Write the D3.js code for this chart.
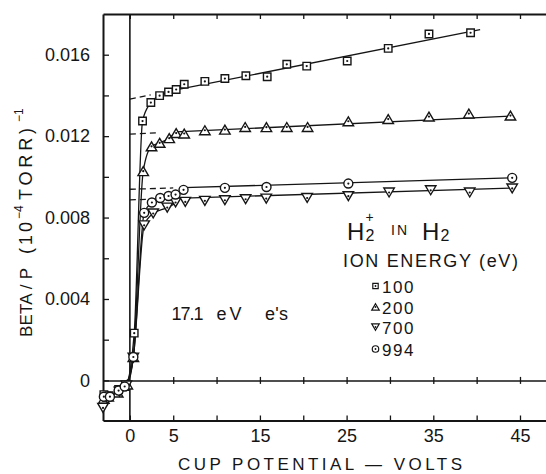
<!DOCTYPE html>
<html>
<head>
<meta charset="utf-8">
<script src="https://cdn.jsdelivr.net/npm/d3@7"></script>
<style>
  body { margin: 0; background: #fff; }
  text { font-family: "Liberation Sans", "DejaVu Sans", sans-serif; fill: #151515; }
</style>
</head>
<body>
<svg></svg>
<script>
// beta/p vs cup potential, one [volts, beta] list per ion energy
var ion100 = [[-3.0,-0.00070],[-2.4,-0.00075],[-1.3,-0.00045],[-0.5,-0.00030],[0.5,0.00232],[1.46,0.01274],
              [2.42,0.01365],[3.43,0.01399],[4.46,0.01417],[5.34,0.01429],[6.27,0.01455],[8.65,0.01469],
              [10.96,0.01483],[13.38,0.01497],[15.84,0.01492],[18.1,0.01553],[20.4,0.01544],[25.07,0.01569],
              [29.8,0.01631],[34.5,0.01702],[39.3,0.01708]];
var ion200 = [[-3.0,-0.00090],[-2.5,-0.00080],[-1.4,-0.00060],[-0.3,-0.00020],[0.4,0.00115],[1.54,0.01028],
              [2.5,0.01150],[3.44,0.01167],[4.54,0.01190],[5.34,0.01215],[6.27,0.01213],[8.65,0.01229],
              [10.96,0.01232],[13.3,0.01245],[15.75,0.01244],[18.1,0.01245],[20.5,0.01245],[25.2,0.01273],
              [29.8,0.01284],[34.5,0.01296],[39.1,0.01311],[43.9,0.01301]];
var ion700 = [[-3.1,-0.00135],[-2.6,-0.00090],[-1.2,-0.00055],[-0.4,-0.00025],[0.4,0.00112],[1.65,0.00762],
              [2.69,0.00820],[4.31,0.00849],[5.27,0.00874],[6.39,0.00877],[8.65,0.00882],[10.96,0.00885],
              [13.35,0.00890],[15.73,0.00893],[20.45,0.00896],[25.2,0.00905],[29.9,0.00923],[34.7,0.00934],
              [39.2,0.00923],[44.1,0.00943]];
var ion994 = [[-3.0,-0.00080],[-2.3,-0.00080],[-1.3,-0.00050],[-0.6,-0.00030],[0.4,0.00115],[1.65,0.00823],
              [2.54,0.00874],[3.5,0.00896],[4.46,0.00906],[5.27,0.00913],[6.19,0.00936],[10.96,0.00946],
              [15.76,0.00950],[25.2,0.00967],[44.1,0.00995]];

var energies = ["100", "200", "700", "994"];

// straight line fits (beta at 0 V, end of line), dashed back to 0 V
var fitBeta0   = [0.01382, 0.01210, 0.00887, 0.00939];
var fitEndV    = [40.4, 43.9, 44.1, 44.1];
var fitEndBeta = [0.01723, 0.01298, 0.00945, 0.00995];
var dashEndV   = [2.4, 3.0, 4.3, 5.0];
var mergeV     = [5.3, 5.3, 5.3, 6.2];

var xTickValues = [0, 5, 10, 15, 20, 25, 30, 35, 40, 45];
var xTickLabels = ["0", "5", "", "15", "", "25", "", "35", "", "45"];
var yTickValues = [0, 0.002, 0.004, 0.006, 0.008, 0.010, 0.012, 0.014, 0.016];
var yTickLabels = ["0", "", "0.004", "", "0.008", "", "0.012", "", "0.016"];

var width = 546, height = 474;
var plot = { left: 103, right: 546, top: 14, bottom: 420.5 };

var svg = d3.select("svg")
    .attr("width", width)
    .attr("height", height);

var xScale = d3.scaleLinear().domain([-3.1, 48]).range([plot.left, plot.right]);
var yScale = d3.scaleLinear().domain([-0.00197, 0.0180]).range([plot.bottom, plot.top]);

// marker shapes for d3.symbol (size = width in px)
var squareMark = { draw: function(c, s) { c.rect(-s / 2, -s / 2, s, s); } };
var triUpMark = { draw: function(c, s) {
  var h = s * 0.85;
  c.moveTo(0, -h / 2); c.lineTo(s / 2, h / 2); c.lineTo(-s / 2, h / 2); c.closePath(); } };
var triDownMark = { draw: function(c, s) {
  var h = s * 0.85;
  c.moveTo(0, h / 2); c.lineTo(s / 2, -h / 2); c.lineTo(-s / 2, -h / 2); c.closePath(); } };
var circleMark = { draw: function(c, s) { c.moveTo(s / 2, 0); c.arc(0, 0, s / 2, 0, 2 * Math.PI); } };

var series = [
  { data: ion100, mark: squareMark, size: 7.5 },
  { data: ion200, mark: triUpMark, size: 10.5 },
  { data: ion700, mark: triDownMark, size: 10.5 },
  { data: ion994, mark: circleMark, size: 9 }
];

// Axes
var xTop = d3.axisTop(xScale).tickValues(xTickValues).tickSizeInner(-5).tickSizeOuter(0).tickFormat("");
var xBottom = d3.axisBottom(xScale).tickValues(xTickValues).tickSizeInner(-5).tickSizeOuter(0)
    .tickPadding(9).tickFormat(function(d, i) { return xTickLabels[i]; });
var xZero = d3.axisBottom(xScale).tickValues(xTickValues.slice(1)).tickSizeOuter(0).tickFormat("");
var yLeft = d3.axisLeft(yScale).tickValues(yTickValues).tickSizeInner(-6).tickSizeOuter(0)
    .tickPadding(13).tickFormat(function(d, i) { return yTickLabels[i]; });

svg.append("g").attr("transform", "translate(0," + plot.top + ")").call(xTop);
svg.append("g").attr("transform", "translate(0," + plot.bottom + ")").call(xBottom);
var zeroG = svg.append("g").attr("transform", "translate(0," + yScale(0) + ")").call(xZero);
zeroG.selectAll(".tick line").attr("y1", -3.5).attr("y2", 3.5);
svg.append("g").attr("transform", "translate(" + plot.left + ",0)").call(yLeft);

svg.selectAll(".domain").attr("stroke", "#151515").attr("stroke-width", 2);
zeroG.select(".domain").attr("stroke-width", 1.5);
svg.selectAll(".tick line").attr("stroke", "#151515").attr("stroke-width", 1.3);
svg.selectAll(".tick text").attr("font-size", 18).attr("font-family", null).attr("fill", "#151515");

// vertical line at 0 V
svg.append("line")
    .attr("x1", xScale(0)).attr("x2", xScale(0))
    .attr("y1", plot.top).attr("y2", plot.bottom)
    .attr("stroke", "#151515").attr("stroke-width", 1.6);

var line = d3.line().x(function(d) { return xScale(d[0]); }).y(function(d) { return yScale(d[1]); });
var curve = d3.line().curve(d3.curveMonotoneX)
    .x(function(d) { return xScale(d[0]); }).y(function(d) { return yScale(d[1]); });

series.forEach(function(s, i) {
  var slope = (fitEndBeta[i] - fitBeta0[i]) / fitEndV[i];
  var fit = function(v) { return fitBeta0[i] + slope * v; };

  // rise near zero, joining the straight line
  var low = s.data.filter(function(d) { return d[0] < mergeV[i]; });
  low.push([mergeV[i], fit(mergeV[i])]);
  svg.append("path").attr("d", curve(low))
      .attr("fill", "none").attr("stroke", "#151515").attr("stroke-width", 1.3);

  svg.append("path").attr("d", line([[mergeV[i], fit(mergeV[i])], [fitEndV[i], fitEndBeta[i]]]))
      .attr("fill", "none").attr("stroke", "#151515").attr("stroke-width", 1.3);

  svg.append("path").attr("d", line([[0, fitBeta0[i]], [dashEndV[i], fit(dashEndV[i])]]))
      .attr("fill", "none").attr("stroke", "#151515").attr("stroke-width", 1.3)
      .attr("stroke-dasharray", "6,4");
});

series.forEach(function(s) {
  var g = svg.append("g");
  g.selectAll("path")
    .data(s.data)
    .enter().append("path")
      .attr("transform", function(d) { return "translate(" + xScale(d[0]) + "," + yScale(d[1]) + ")"; })
      .attr("d", d3.symbol().type(s.mark).size(s.size))
      .attr("fill", "#fff").attr("stroke", "#151515").attr("stroke-width", 1.4);
  g.selectAll("circle")
    .data(s.data)
    .enter().append("circle")
      .attr("cx", function(d) { return xScale(d[0]); })
      .attr("cy", function(d) { return yScale(d[1]); })
      .attr("r", 1.1).attr("fill", "#151515");
});

// Legend
var legendY = [286, 307, 327, 349];
series.forEach(function(s, i) {
  svg.append("path")
      .attr("transform", "translate(375.5," + legendY[i] + ")")
      .attr("d", d3.symbol().type(s.mark).size(s.size * 0.72))
      .attr("fill", "#fff").attr("stroke", "#151515").attr("stroke-width", 1.2);
  svg.append("circle").attr("cx", 375.5).attr("cy", legendY[i]).attr("r", 0.9).attr("fill", "#151515");
  svg.append("text")
      .attr("x", 382).attr("y", legendY[i] + 6.5)
      .attr("font-size", 17).attr("letter-spacing", 1.5)
      .text(energies[i]);
});

svg.append("text").attr("x", 343).attr("y", 266.5).attr("font-size", 18)
    .attr("textLength", 175).attr("lengthAdjust", "spacing")
    .text("ION ENERGY (eV)");

// H2+ in H2
svg.append("text").attr("x", 347).attr("y", 239.5).attr("font-size", 24).text("H");
svg.append("text").attr("x", 365.5).attr("y", 240.5).attr("font-size", 16).text("2");
svg.append("text").attr("x", 365.5).attr("y", 222).attr("font-size", 14).text("+");
svg.append("text").attr("x", 391).attr("y", 235).attr("font-size", 14)
    .attr("textLength", 16).attr("lengthAdjust", "spacing").text("IN");
svg.append("text").attr("x", 422).attr("y", 239.5).attr("font-size", 24).text("H");
svg.append("text").attr("x", 440.5).attr("y", 240.5).attr("font-size", 16).text("2");

// 17.1 eV e's
svg.append("text").attr("x", 171.5).attr("y", 320).attr("font-size", 18)
    .attr("textLength", 32).attr("lengthAdjust", "spacing").text("17.1");
svg.append("text").attr("x", 216.5).attr("y", 320).attr("font-size", 18)
    .attr("textLength", 25).attr("lengthAdjust", "spacing").text("eV");
svg.append("text").attr("x", 265).attr("y", 320).attr("font-size", 18)
    .attr("textLength", 23).attr("lengthAdjust", "spacing").text("e's");

// Axis titles
svg.append("text").attr("x", 178).attr("y", 470).attr("font-size", 17)
    .attr("textLength", 284).attr("lengthAdjust", "spacing")
    .text("CUP POTENTIAL \u2014 VOLTS");

var yTitle = svg.append("g").attr("transform", "rotate(-90)");
yTitle.append("text").attr("x", -337).attr("y", 32).attr("font-size", 17)
    .attr("textLength", 69).attr("lengthAdjust", "spacing").text("BETA / P");
yTitle.append("text").attr("x", -254).attr("y", 32).attr("font-size", 18)
    .attr("textLength", 32).attr("lengthAdjust", "spacing").text("(10");
yTitle.append("text").attr("x", -219).attr("y", 23).attr("font-size", 12).text("\u22124");
yTitle.append("text").attr("x", -200).attr("y", 32).attr("font-size", 18)
    .attr("textLength", 72).attr("lengthAdjust", "spacing").text("TORR)");
yTitle.append("text").attr("x", -122).attr("y", 23).attr("font-size", 12).text("\u22121");
</script>
</body>
</html>
